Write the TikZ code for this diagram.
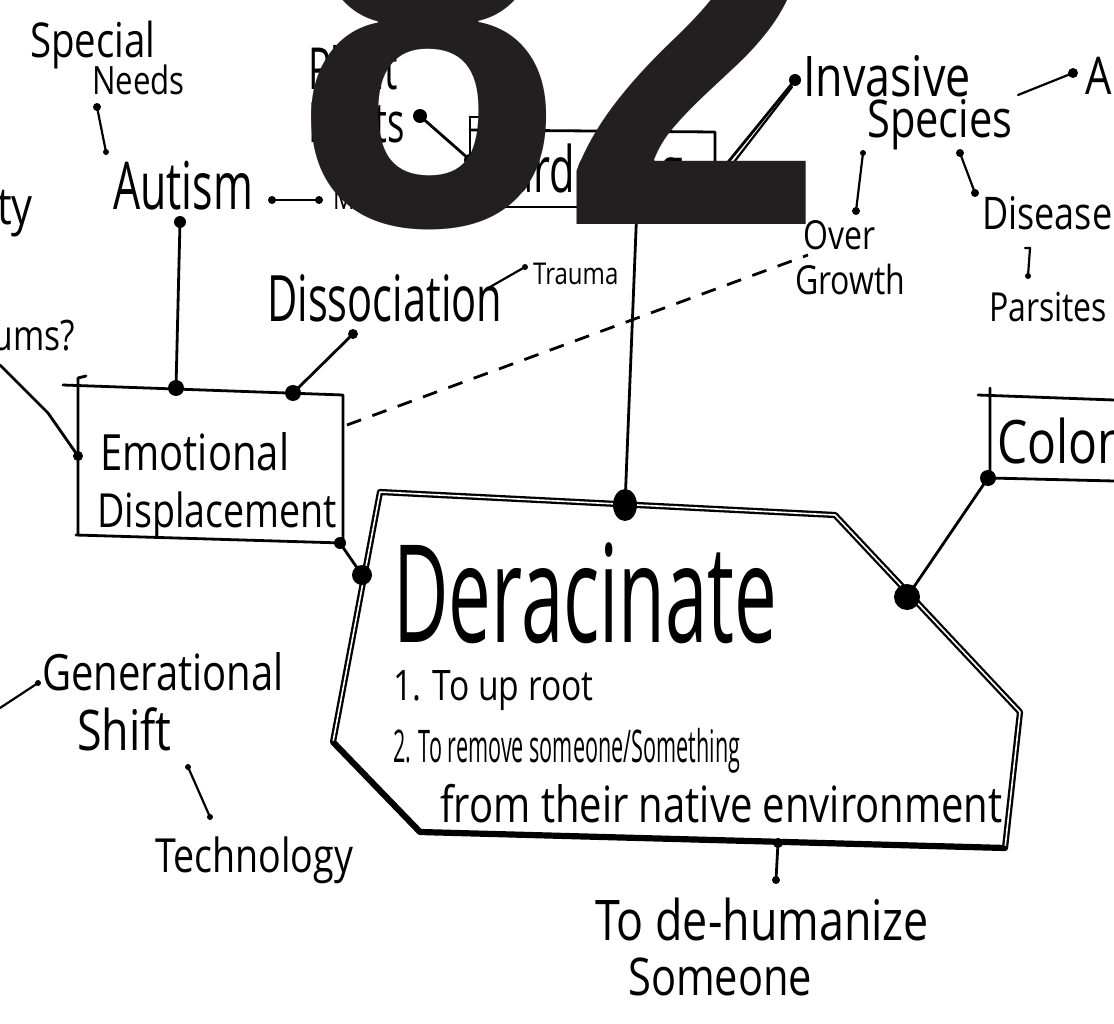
\documentclass[tikz,border=0pt]{standalone}
\usepackage{fontspec}
\newfontfamily\hand[FakeStretch=0.8]{Open Sans}
\newfontfamily\handn[FakeStretch=0.65]{Open Sans}
\newfontfamily\handc[FakeStretch=0.56]{Open Sans}
\newfontfamily\handx[FakeStretch=0.48]{Open Sans}
\newfontfamily\bignum[FakeStretch=0.85]{Liberation Sans}
\definecolor{numgray}{HTML}{231F20}
\newcommand\hfs[1]{\fontsize{#1}{#1}\selectfont}
\begin{document}
\begin{tikzpicture}[x=1pt,y=-1pt,
  ink/.style={line width=2.8pt, line cap=round, line join=round},
  thinink/.style={line width=2.2pt, line cap=round, line join=round},
  dashink/.style={line width=2.8pt, dash pattern=on 15pt off 12pt},
  derac/.style={line width=2.3pt, double=white, double distance=1.6pt, line join=round},
  lbl/.style={inner sep=0pt, anchor=base west, font=\hand}]
\path[use as bounding box] (0,0) rectangle (1114,1024);
\clip (0,0) rectangle (1114,1024);
\fill[white] (0,0) rectangle (1114,1024);

% ---------- text nodes ----------
\node[lbl,font=\hand\hfs{48}] (special) at (30,58) {Special};
\node[lbl,font=\hand\hfs{39}] (needs) at (92,95) {Needs};
\node[lbl,font=\handn\hfs{66}] (autism) at (113,210) {Autism};
\node[lbl,font=\hand\hfs{30}] (masking) at (333,210) {Masking};
\node[lbl,font=\handn\hfs{58}] (plant) at (308,90) {Plant};
\node[lbl,font=\handn\hfs{56}] (roots) at (308,143) {Roots};
\node[lbl,font=\handn\hfs{64}] (gardening) at (480,193) {Gardening};
\node[lbl,font=\hand\hfs{56}] (invasive) at (803,97) {Invasive};
\node[lbl,font=\hand\hfs{52}] (species) at (867,138) {Species};
\node[lbl,font=\hand\hfs{40}] (over) at (803,250) {Over};
\node[lbl,font=\hand\hfs{40}] (growth) at (795,295) {Growth};
\node[lbl,font=\hand\hfs{45}] (disease) at (982,230) {Disease};
\node[lbl,font=\hand\hfs{40}] (parsites) at (989,322) {Parsites};
\node[lbl,font=\hand\hfs{60}] (colon) at (997,463) {Colon};
\node[lbl,font=\hand\hfs{52}] (animal) at (1085,95) {An};
\node[lbl,font=\hand\hfs{30}] (trauma) at (533,285) {Trauma};
\node[lbl,font=\handn\hfs{64}] (dissoc) at (267,322) {Dissociation};
\node[lbl,font=\hand\hfs{50}] (emot) at (100,470) {Emotional};
\node[lbl,font=\hand\hfs{47}] (displ) at (97,527) {Displacement};
\node[lbl,font=\hand\hfs{50}] (gener) at (42,690) {Generational};
\node[lbl,font=\hand\hfs{56}] (shift) at (77,750) {Shift};
\node[lbl,font=\hand\hfs{47}] (tech) at (155,872) {Technology};
\node[lbl,font=\handc\hfs{136}] (deracinate) at (393,642) {Deracinate};
\node[lbl,font=\hand\hfs{42}] (def1) at (393,700) {1. To up root};
\node[lbl,font=\handx\hfs{45}] (def2) at (393,762) {2. To remove someone/Something};
\node[lbl,font=\hand\hfs{50}] (def3) at (440,822) {from their native environment};
\node[lbl,font=\hand\hfs{56}] (dehum) at (595,940) {To de-humanize};
\node[lbl,font=\hand\hfs{52}] (someone) at (628,995) {Someone};
\node[lbl,font=\hand\hfs{52},anchor=base east] (ty) at (33,225) {ty};
\node[lbl,font=\hand\hfs{42},anchor=base east] (ums) at (75,350) {ums?};

% ---------- connector end points ----------
\coordinate (sn1) at (97,107);   \coordinate (sn2) at (106,152);
\coordinate (am1) at (272,200);  \coordinate (am2) at (319,200);
\coordinate (ae1) at (180,222);  \coordinate (ae2) at (176,388);
\coordinate (de1) at (353,334);  \coordinate (de2) at (293,393);
\coordinate (rg1) at (420,116);  \coordinate (rg2) at (470,160);
\coordinate (gi1) at (720,172);  \coordinate (gi2) at (795,80);
\coordinate (ia1) at (1018,95);  \coordinate (ia2) at (1073,73);
\coordinate (so1) at (863,153);  \coordinate (so2) at (856,211);
\coordinate (sd1) at (960,153);  \coordinate (sd2) at (975,193);
\coordinate (dp1) at (1025,248); \coordinate (dp2) at (1030,248); \coordinate (dp3) at (1028,276);
\coordinate (tr1) at (490,287);  \coordinate (tr2) at (525,267);
\coordinate (gd1) at (637,205);  \coordinate (gd2) at (625,505);
\coordinate (ed1) at (340,543);  \coordinate (ed2) at (362,575);
\coordinate (cd1) at (988,478);  \coordinate (cd2) at (907,597);
\coordinate (dh1) at (778,843);  \coordinate (dh2) at (776,880);
\coordinate (gl1) at (0,708);    \coordinate (gl2) at (38,683);
\coordinate (st1) at (188,767);  \coordinate (st2) at (210,817);
\coordinate (um1) at (0,365);    \coordinate (um2) at (48,413);  \coordinate (um3) at (78,456);
\coordinate (dash1) at (347,425); \coordinate (dash2) at (808,255);

% ---------- boxes ----------
\draw[ink] (470,117) -- (478,117);
\draw[ink] (470,117) -- (470,207) -- (718,207);
\draw[ink] (470,130) -- (715,132) -- (715,207);

\draw[ink] (63,385) -- (343,395) -- (343,543);
\draw[ink] (86,376) -- (78,378) -- (78,535);
\draw[ink] (76,535) -- (342,543);

\draw[ink] (978,395) -- (1114,400);
\draw[ink] (990,388) -- (990,478) -- (1114,481);

% Deracinate outline
\draw[derac] (380,492) -- (835,515) -- (1020,712) -- (1005,848) -- (420,832) -- (333,742) -- cycle;
\draw[line width=4.5pt, line cap=round] (420,832) -- (1005,848);
\draw[line width=3.5pt, line cap=round] (333,742) -- (420,832);

% ---------- connectors ----------
\draw[thinink] (sn1) -- (sn2);
\draw[thinink] (am1) -- (am2);
\draw[ink] (ae1) -- (ae2);
\draw[ink] (de1) -- (de2);
\draw[ink] (rg1) -- (rg2);
\draw[ink] (gi1) -- (gi2);
\draw[thinink] (724,175) -- (792,87);
\draw[thinink] (ia1) -- (ia2);
\draw[thinink] (so1) -- (so2);
\draw[thinink] (sd1) -- (sd2);
\draw[thinink] (dp1) -- (dp2) -- (dp3);
\draw[thinink] (tr1) -- (tr2);
\draw[ink] (gd1) -- (gd2);
\draw[ink] (ed1) -- (ed2);
\draw[ink] (cd1) -- (cd2);
\draw[ink] (dh1) -- (dh2);
\draw[thinink] (gl1) -- (gl2);
\draw[thinink] (st1) -- (st2);
\draw[ink] (um1) -- (um2) -- (um3);
\draw[dashink] (dash1) -- (dash2);

% ---------- dots ----------
\fill (sn1) circle (4); \fill (sn2) circle (3);
\fill (am1) circle (4); \fill (am2) circle (4);
\fill (ae1) circle (6); \fill (ae2) circle (8);
\fill (de1) circle (5); \fill (de2) circle (8);
\fill (rg1) circle (7); \fill (rg2) circle (6);
\fill (gi1) circle (6); \fill (gi2) circle (6);
\fill (ia2) circle (5);
\fill (so1) circle (3); \fill (so2) circle (4);
\fill (sd1) circle (4); \fill (sd2) circle (4);
\fill (dp3) circle (3);
\fill (tr2) circle (3);
\fill (gd1) circle (10); \fill (gd2) ellipse [x radius=12, y radius=16];
\fill (ed1) circle (6); \fill (ed2) circle (10);
\fill (cd1) circle (8); \fill (cd2) circle (13);
\fill (dh1) circle (5); \fill (dh2) circle (4);
\fill (gl2) circle (3);
\fill (st1) circle (3); \fill (st2) circle (3);
\fill (um3) circle (5);

% ---------- overlay number ----------
\node[anchor=base west, inner sep=0pt, text=numgray, font=\bignum\bfseries\hfs{560}] (num) at (296,225) {82};
\end{tikzpicture}
\end{document}
